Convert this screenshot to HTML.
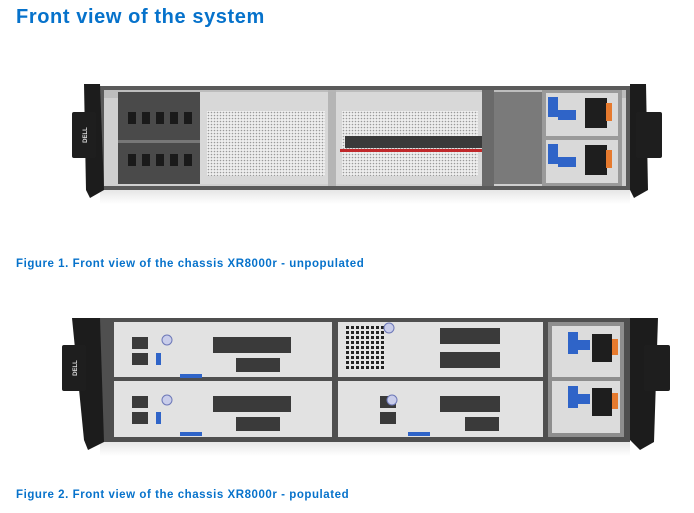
<!DOCTYPE html>
<html><head><meta charset="utf-8"><style>
body{margin:0;width:694px;height:513px;background:#fff;position:relative;overflow:hidden;font-family:"Liberation Sans",sans-serif}
.t{position:absolute;left:16px;top:6px;font-size:20px;font-weight:bold;color:#0672cb;letter-spacing:.6px}
.c{position:absolute;left:16px;font-size:11.5px;font-weight:bold;color:#0672cb;letter-spacing:.55px}
svg{position:absolute;left:0;top:0}
</style></head><body>
<div class="t">Front view of the system</div>
<svg width="694" height="513" viewBox="0 0 694 513">
<defs>
<pattern id="mesh" width="3" height="3" patternUnits="userSpaceOnUse"><rect width="3" height="3" fill="#eeeeee"/><circle cx="1.5" cy="1.5" r=".8" fill="#9a9a9a"/></pattern>
<pattern id="grid" width="5" height="5" patternUnits="userSpaceOnUse"><rect width="5" height="5" fill="#e4e4e4"/><rect x="1" y="1" width="3" height="3" fill="#222"/></pattern>
<linearGradient id="refl" x1="0" y1="0" x2="0" y2="1"><stop offset="0" stop-color="#e6e6e6"/><stop offset="1" stop-color="#fff"/></linearGradient>
</defs>
<rect x="100" y="190" width="530" height="14" fill="url(#refl)"/>
<rect x="100" y="86" width="530" height="104" fill="#5a5a5a"/>
<rect x="104" y="90" width="522" height="96" fill="#cfcfcf"/>
<rect x="104" y="90" width="522" height="8" fill="#bdbdbd"/>
<rect x="118" y="92" width="82" height="92" fill="#4a4a4a"/>
<g fill="#1a1a1a">
<rect x="128" y="112" width="8" height="12"/><rect x="142" y="112" width="8" height="12"/><rect x="156" y="112" width="8" height="12"/><rect x="170" y="112" width="8" height="12"/><rect x="184" y="112" width="8" height="12"/>
<rect x="128" y="154" width="8" height="12"/><rect x="142" y="154" width="8" height="12"/><rect x="156" y="154" width="8" height="12"/><rect x="170" y="154" width="8" height="12"/><rect x="184" y="154" width="8" height="12"/>
</g>
<rect x="118" y="140" width="82" height="3" fill="#777"/>
<rect x="200" y="92" width="130" height="92" fill="#d8d8d8"/>
<rect x="207" y="111" width="118" height="65" fill="url(#mesh)"/>
<rect x="328" y="90" width="8" height="96" fill="#b5b5b5"/>
<rect x="336" y="92" width="146" height="92" fill="#d8d8d8"/>
<rect x="342" y="111" width="136" height="65" fill="url(#mesh)"/>
<rect x="345" y="136" width="137" height="12" fill="#3a3a3a"/>
<rect x="340" y="149" width="142" height="3" fill="#c0282a"/>
<rect x="482" y="90" width="12" height="96" fill="#6a6a6a"/>
<rect x="494" y="92" width="48" height="92" fill="#7a7a7a"/>
<rect x="542" y="90" width="80" height="96" fill="#9a9a9a"/>
<rect x="546" y="93" width="72" height="43" fill="#d9d9d9"/>
<rect x="546" y="140" width="72" height="43" fill="#d9d9d9"/>
<rect x="548" y="97" width="10" height="20" fill="#2f64c8"/><rect x="548" y="144" width="10" height="20" fill="#2f64c8"/>
<rect x="558" y="110" width="18" height="10" fill="#2f64c8"/><rect x="558" y="157" width="18" height="10" fill="#2f64c8"/>
<rect x="585" y="98" width="22" height="30" fill="#1e1e1e"/><rect x="585" y="145" width="22" height="30" fill="#1e1e1e"/>
<rect x="606" y="103" width="6" height="18" fill="#e67a2e"/><rect x="606" y="150" width="6" height="18" fill="#e67a2e"/>
<path d="M84 84 L100 84 L104 190 L90 198 L86 190 Z" fill="#1c1c1c"/>
<rect x="72" y="112" width="24" height="46" rx="2" fill="#1e1e1e"/>
<text transform="translate(87 135) rotate(-90)" font-size="6" fill="#ddd" text-anchor="middle" font-family="Liberation Sans" font-weight="bold">DELL</text>
<path d="M630 84 L646 84 L648 190 L634 198 L630 190 Z" fill="#1c1c1c"/>
<rect x="636" y="112" width="26" height="46" rx="2" fill="#1e1e1e"/>
<rect x="100" y="442" width="530" height="14" fill="url(#refl)"/>
<rect x="100" y="318" width="530" height="124" fill="#4f4f4f"/>
<rect x="114" y="322" width="218" height="55" fill="#e2e2e2"/>
<rect x="114" y="381" width="218" height="56" fill="#e2e2e2"/>
<rect x="338" y="322" width="65" height="55" fill="#e2e2e2"/>
<rect x="345" y="326" width="40" height="45" fill="url(#grid)"/>
<rect x="403" y="322" width="140" height="55" fill="#e2e2e2"/>
<rect x="338" y="381" width="205" height="56" fill="#e2e2e2"/>
<g fill="#3a3a3a">
<rect x="132" y="337" width="16" height="12"/><rect x="132" y="353" width="16" height="12"/>
<rect x="213" y="337" width="78" height="16"/><rect x="236" y="358" width="44" height="14"/>
<rect x="132" y="396" width="16" height="12"/><rect x="132" y="412" width="16" height="12"/>
<rect x="213" y="396" width="78" height="16"/><rect x="236" y="417" width="44" height="14"/>
<rect x="440" y="328" width="60" height="16"/><rect x="440" y="352" width="60" height="16"/>
<rect x="380" y="396" width="16" height="12"/><rect x="380" y="412" width="16" height="12"/>
<rect x="440" y="396" width="60" height="16"/><rect x="465" y="417" width="34" height="14"/>
</g>
<g fill="#2f64c8">
<rect x="156" y="353" width="5" height="12"/><rect x="156" y="412" width="5" height="12"/>
<rect x="180" y="374" width="22" height="4"/><rect x="180" y="432" width="22" height="4"/><rect x="408" y="432" width="22" height="4"/>
</g>
<circle cx="167" cy="340" r="5" fill="#c9cdea" stroke="#6d78b8"/><circle cx="167" cy="400" r="5" fill="#c9cdea" stroke="#6d78b8"/>
<circle cx="389" cy="328" r="5" fill="#c9cdea" stroke="#6d78b8"/><circle cx="392" cy="400" r="5" fill="#c9cdea" stroke="#6d78b8"/>
<rect x="548" y="322" width="76" height="115" fill="#8e8e8e"/>
<rect x="552" y="326" width="68" height="51" fill="#dcdcdc"/>
<rect x="552" y="381" width="68" height="52" fill="#dcdcdc"/>
<rect x="568" y="332" width="10" height="22" fill="#2f64c8"/><rect x="568" y="386" width="10" height="22" fill="#2f64c8"/>
<rect x="576" y="340" width="14" height="10" fill="#2f64c8"/><rect x="576" y="394" width="14" height="10" fill="#2f64c8"/>
<rect x="592" y="334" width="20" height="28" fill="#1e1e1e"/><rect x="592" y="388" width="20" height="28" fill="#1e1e1e"/>
<rect x="612" y="339" width="6" height="16" fill="#e67a2e"/><rect x="612" y="393" width="6" height="16" fill="#e67a2e"/>
<path d="M72 318 L100 318 L104 442 L88 450 L84 440 Z" fill="#1c1c1c"/>
<rect x="62" y="345" width="24" height="46" rx="2" fill="#1e1e1e"/>
<text transform="translate(77 368) rotate(-90)" font-size="6" fill="#ddd" text-anchor="middle" font-family="Liberation Sans" font-weight="bold">DELL</text>
<path d="M630 318 L658 318 L654 442 L640 450 L630 440 Z" fill="#1c1c1c"/>
<rect x="644" y="345" width="26" height="46" rx="2" fill="#1e1e1e"/>
</svg>
<div class="c" style="top:258px">Figure 1. Front view of the chassis XR8000r - unpopulated</div>
<div class="c" style="top:489px">Figure 2. Front view of the chassis XR8000r - populated</div>
</body></html>
